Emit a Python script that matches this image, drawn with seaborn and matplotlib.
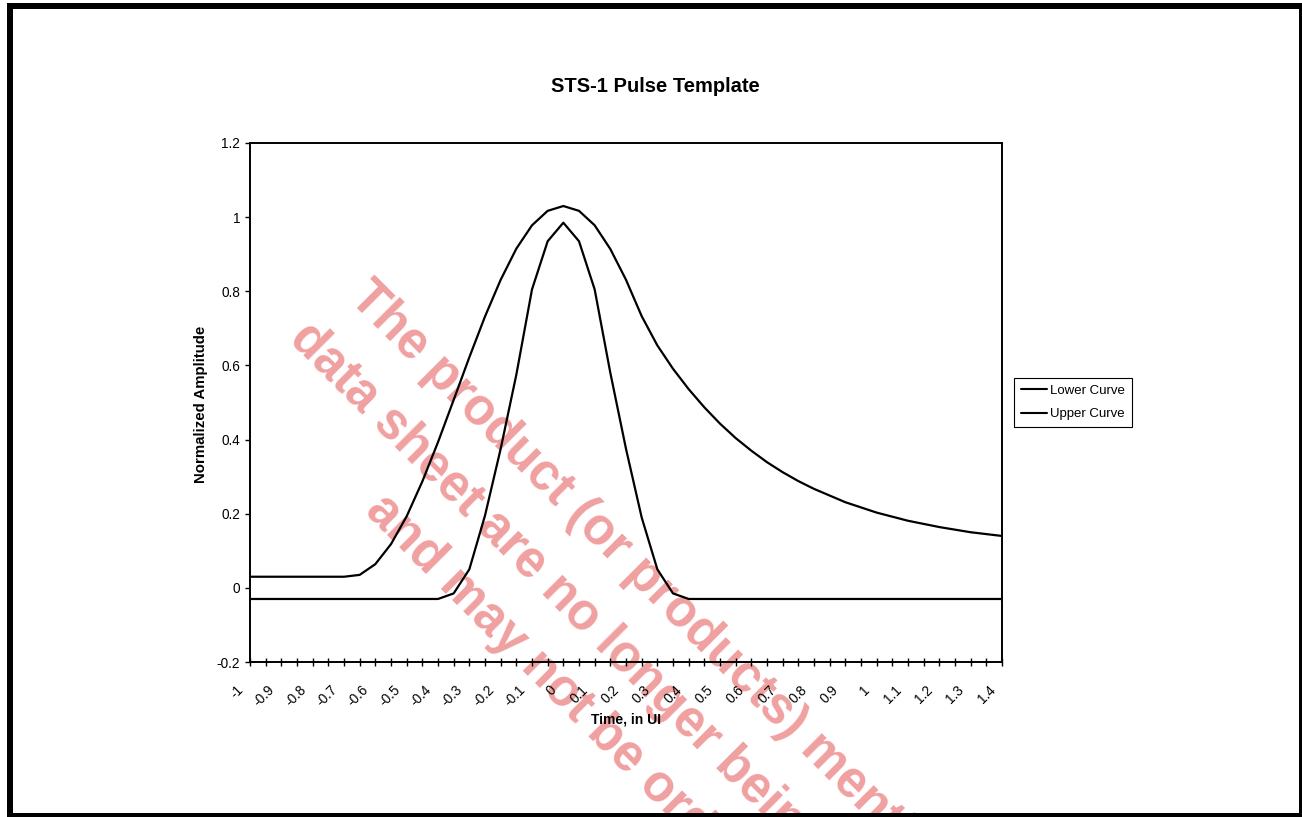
import matplotlib
matplotlib.use("Agg")
import matplotlib.pyplot as plt
import pandas as pd
import seaborn as sns
from matplotlib.patches import Rectangle
from matplotlib.transforms import ScaledTranslation
from matplotlib.ticker import MultipleLocator

# ---------------- data ----------------
times = [-1.0, -0.95, -0.9, -0.85, -0.8, -0.75, -0.7, -0.65, -0.6, -0.55,
         -0.5, -0.45, -0.4, -0.35, -0.3, -0.25, -0.2, -0.15, -0.1, -0.05,
         0.0, 0.05, 0.1, 0.15, 0.2, 0.25, 0.3, 0.35, 0.4, 0.45,
         0.5, 0.55, 0.6, 0.65, 0.7, 0.75, 0.8, 0.9, 1.0, 1.1,
         1.2, 1.3, 1.4]

lower_curve = [-0.03, -0.03, -0.03, -0.03, -0.03, -0.03, -0.03, -0.03, -0.03, -0.03,
               -0.03, -0.03, -0.03, -0.015, 0.05, 0.195, 0.375, 0.575, 0.805, 0.935,
               0.985, 0.935, 0.805, 0.58, 0.375, 0.19, 0.05, -0.015, -0.03, -0.03,
               -0.03, -0.03, -0.03, -0.03, -0.03, -0.03, -0.03, -0.03, -0.03, -0.03,
               -0.03, -0.03, -0.03]

upper_curve = [0.03, 0.03, 0.03, 0.03, 0.03, 0.03, 0.03, 0.035, 0.064, 0.118,
               0.193, 0.287, 0.393, 0.507, 0.622, 0.732, 0.831, 0.915, 0.978, 1.017,
               1.03, 1.017, 0.978, 0.914, 0.831, 0.733, 0.654, 0.591, 0.536, 0.487,
               0.443, 0.404, 0.370, 0.339, 0.312, 0.288, 0.267, 0.231, 0.203, 0.181,
               0.164, 0.150, 0.140]

series_names = ["Lower Curve", "Upper Curve"]

x_tick_values = [-1.0, -0.9, -0.8, -0.7, -0.6, -0.5, -0.4, -0.3, -0.2, -0.1, 0.0,
                 0.1, 0.2, 0.3, 0.4, 0.5, 0.6, 0.7, 0.8, 0.9, 1.0, 1.1, 1.2, 1.3, 1.4]
x_tick_labels = ["-1", "-0.9", "-0.8", "-0.7", "-0.6", "-0.5", "-0.4", "-0.3", "-0.2",
                 "-0.1", "0", "0.1", "0.2", "0.3", "0.4", "0.5", "0.6", "0.7", "0.8",
                 "0.9", "1", "1.1", "1.2", "1.3", "1.4"]
y_tick_values = [-0.2, 0.0, 0.2, 0.4, 0.6, 0.8, 1.0, 1.2]
y_tick_labels = ["-0.2", "0", "0.2", "0.4", "0.6", "0.8", "1", "1.2"]

title_text = "STS-1 Pulse Template"
x_label = "Time, in UI"
y_label = "Normalized Amplitude"
watermark_lines = ["The product (or products) mentioned in this",
                   "data sheet are no longer being manufactured",
                   "and may not be ordered."]

# ---------------- style ----------------
sns.set_style("white")
plt.rcParams['font.family'] = ['Liberation Sans', 'DejaVu Sans']
plt.rcParams['text.color'] = 'black'
plt.rcParams['axes.labelcolor'] = 'black'
plt.rcParams['xtick.color'] = 'black'
plt.rcParams['ytick.color'] = 'black'

W, H = 1302, 817
fig = plt.figure(figsize=(W / 100, H / 100), dpi=100)
fig.patch.set_facecolor('white')

ax = fig.add_axes([250 / W, 1 - 662 / H, 752 / W, 519 / H])
ax.set_facecolor('none')

df = pd.DataFrame({
    "Time": times + times,
    "Amplitude": lower_curve + upper_curve,
    "Curve": [series_names[0]] * len(times) + [series_names[1]] * len(times),
})

sns.lineplot(data=df, x="Time", y="Amplitude", hue="Curve",
             palette={series_names[0]: "black", series_names[1]: "black"},
             estimator=None, sort=False, linewidth=1.6, ax=ax, legend=True)

ax.set_xlim(-1.0, 1.4)
ax.set_ylim(-0.2, 1.2)
ax.set_xlabel("")
ax.set_ylabel("")

ax.set_xticks(x_tick_values)
ax.set_xticklabels(x_tick_labels, rotation=45, ha='right', va='center',
                   rotation_mode='anchor', fontsize=9.8)
ax.xaxis.set_minor_locator(MultipleLocator(0.05))
ax.tick_params(axis='x', which='both', bottom=True, direction='inout',
               length=8 * 0.72, width=1.0, pad=15.5, colors='black')
for lab in ax.get_xticklabels():
    lab.set_transform(lab.get_transform() + ScaledTranslation(-9 / 100, 0, fig.dpi_scale_trans))

ax.set_yticks(y_tick_values)
ax.set_yticklabels(y_tick_labels, fontsize=9.8)
ax.tick_params(axis='y', which='both', left=True, direction='out',
               length=5 * 0.72, width=1.0, pad=3.6, colors='black')

for s in ax.spines.values():
    s.set_visible(True)
    s.set_color('black')
    s.set_linewidth(1.4)

handles, labels = ax.get_legend_handles_labels()
leg = ax.legend(handles, labels, loc='upper left',
                bbox_to_anchor=(1014 / W, 1 - 378 / H), bbox_transform=fig.transFigure,
                frameon=True, fancybox=False, edgecolor='black', framealpha=1,
                fontsize=9.5, handlelength=2.0, handletextpad=0.25, borderpad=0.5,
                labelspacing=0.85, borderaxespad=0)
leg.get_frame().set_linewidth(0.8)
for line in leg.get_lines():
    line.set_linewidth(1.5)

# ---------------- texts ----------------
fig.text(655 / W, 1 - 87 / H, title_text, ha='center', va='center',
         fontsize=14.5, fontweight='bold')
fig.text(626 / W, 1 - 720 / H, x_label, ha='center', va='center',
         fontsize=10, fontweight='bold')
fig.text(201 / W, 1 - 404 / H, y_label, ha='center', va='center', rotation=90,
         fontsize=10.8, fontweight='bold')

# watermark (behind the axes)
wm_anchor_px = [(348.0, 299.5), (287.4, 339.8), (363.5, 512.0)]
for (px, py), txt in zip(wm_anchor_px, watermark_lines):
    fig.text(px / W, 1 - py / H, txt, rotation=-45, rotation_mode='anchor',
             ha='left', va='baseline', fontsize=36.5, fontweight='bold',
             color='#F0A0A0', zorder=-1)

# outer frame
fig.add_artist(Rectangle((9.7 / W, 0.7 / H), (1302 - 9.7) / W, (811.3 - 0.7) / H,
                         transform=fig.transFigure, fill=False, edgecolor='black',
                         linewidth=6 * 0.72, clip_on=False))

fig.savefig("out.png", dpi=100, facecolor='white')
